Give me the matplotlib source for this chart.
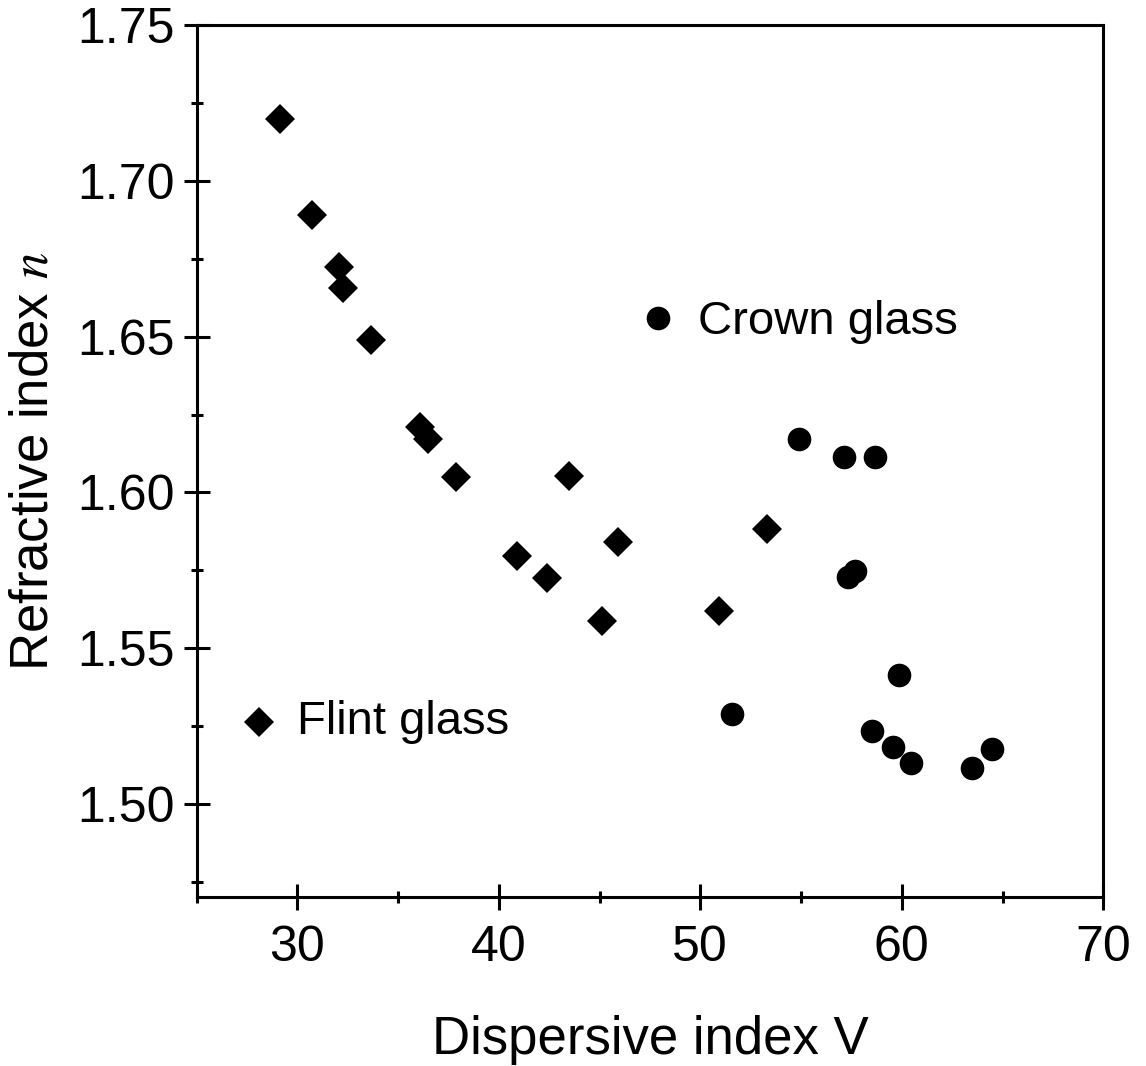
import matplotlib
matplotlib.use("Agg")
import matplotlib.pyplot as plt
from matplotlib.ticker import MultipleLocator

plt.rcParams['font.family'] = ['Liberation Sans', 'DejaVu Sans']
plt.rcParams['mathtext.fontset'] = 'stix'

# flint glass (diamonds)
flint_v = [29.12, 30.74, 32.05, 32.25, 33.65, 36.10, 36.48, 37.90, 40.92, 42.41,
           43.49, 45.92, 45.14, 50.94, 53.32]
flint_n = [1.7197, 1.6890, 1.6724, 1.6657, 1.6489, 1.6211, 1.6171, 1.6050, 1.5796, 1.5726,
           1.6054, 1.5841, 1.5587, 1.5618, 1.5883]

# crown glass (circles)
crown_v = [54.89, 57.11, 58.69, 57.31, 57.66, 51.57, 59.85, 58.54, 59.56, 60.46, 63.49, 64.48]
crown_n = [1.6172, 1.6113, 1.6115, 1.5728, 1.5748, 1.5289, 1.5415, 1.5235, 1.5184, 1.5131,
           1.5117, 1.5178]

fig = plt.figure(figsize=(11.46, 10.66), dpi=100)
ax = fig.add_axes([0.1715, 0.1581, 0.7912, 0.8184])

ax.plot(flint_v, flint_n, 'D', color='black', ms=15.5, mew=0, ls='none')
ax.plot(crown_v, crown_n, 'o', color='black', ms=17, mew=0, ls='none')

# in-plot legend labels
ax.plot([47.92], [1.656], 'o', color='black', ms=17, mew=0)
ax.text(49.9, 1.6548, 'Crown glass', fontsize=34, va='center', ha='left')
ax.plot([28.08], [1.5263], 'D', color='black', ms=15.5, mew=0)
ax.text(30.0, 1.5262, 'Flint glass', fontsize=34, va='center', ha='left')

ax.set_xlim(25, 70)
ax.set_ylim(1.47, 1.75)
ax.xaxis.set_major_locator(MultipleLocator(10))
ax.xaxis.set_minor_locator(MultipleLocator(5))
ax.yaxis.set_major_locator(MultipleLocator(0.05))
ax.yaxis.set_minor_locator(MultipleLocator(0.025))
ax.yaxis.set_major_formatter(plt.FormatStrFormatter('%.2f'))

ax.tick_params(which='major', direction='inout', length=19, width=2.2,
               labelsize=36, top=False, right=False)
ax.tick_params(which='minor', direction='inout', length=9, width=2.2,
               top=False, right=False)
ax.tick_params(axis='x', pad=10)
ax.tick_params(axis='y', pad=6)

for s in ax.spines.values():
    s.set_linewidth(2.2)

ax.set_xlabel('Dispersive index V', fontsize=38, labelpad=32)
ax.set_ylabel('Refractive index $n$', fontsize=38, labelpad=14)

fig.savefig('out.png', dpi=100)
